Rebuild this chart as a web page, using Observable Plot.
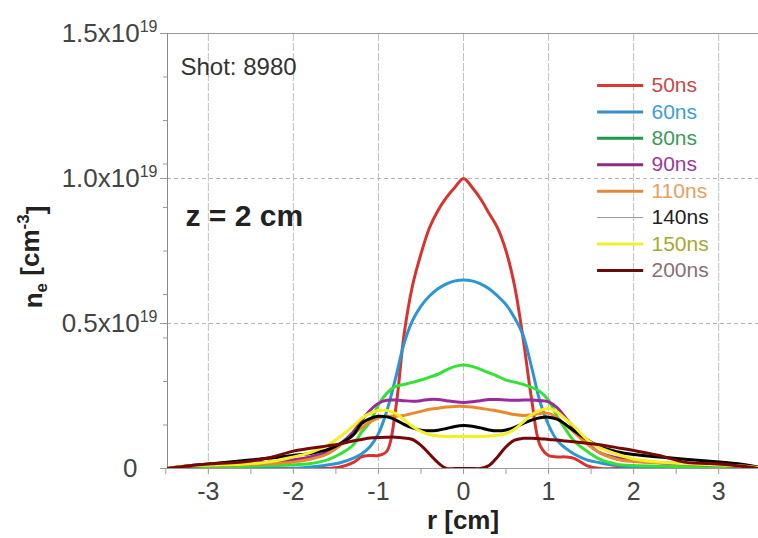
<!DOCTYPE html>
<html>
<head>
<meta charset="utf-8">
<script src="https://cdn.jsdelivr.net/npm/d3@7"></script>
<script src="https://cdn.jsdelivr.net/npm/@observablehq/plot@0.6"></script>
<style>
  body { margin: 0; background: #fff; }
  #chart svg { display: block; }
</style>
</head>
<body>
<div id="chart"></div>
<script>
// radial positions (cm)
const r = [-3.48,-3.2,-2.9,-2.6,-2.3,-2.0,-1.8,-1.6,-1.45,-1.3,-1.2,-1.1,-1.0,-0.9,-0.8,-0.7,-0.6,-0.5,-0.4,-0.3,-0.2,-0.1,0,
           0.1,0.2,0.3,0.4,0.5,0.6,0.7,0.8,0.9,1.0,1.1,1.2,1.3,1.45,1.6,1.8,2.0,2.3,2.6,2.9,3.2,3.47];

// electron density, units of 1e19 cm^-3
const ne50  = [0,0,0,0,0,0,0,0,0.005,0.02,0.04,0.045,0.045,0.06,0.2,0.46,0.63,0.74,0.83,0.89,0.935,0.97,1.0,
               0.97,0.93,0.88,0.83,0.75,0.63,0.45,0.24,0.08,0.045,0.04,0.04,0.035,0.01,0,0,0,0,0,0,0,0];
const ne60  = [0,0,0,0,0,0,0.005,0.012,0.02,0.035,0.05,0.075,0.12,0.2,0.31,0.43,0.51,0.56,0.595,0.62,0.637,0.647,0.65,
               0.647,0.637,0.62,0.595,0.565,0.52,0.46,0.35,0.23,0.15,0.097,0.07,0.05,0.03,0.02,0.01,0.005,0,0,0,0,0];
const ne80  = [0,0.003,0.005,0.007,0.01,0.012,0.017,0.03,0.05,0.08,0.125,0.16,0.22,0.26,0.283,0.29,0.297,0.305,0.315,0.325,0.34,0.352,0.357,
               0.352,0.342,0.33,0.318,0.305,0.298,0.29,0.28,0.265,0.235,0.18,0.135,0.095,0.06,0.032,0.015,0.01,0.008,0.006,0.004,0.002,0];
const ne90  = [0,0.008,0.012,0.015,0.022,0.03,0.04,0.057,0.085,0.125,0.165,0.2,0.225,0.235,0.236,0.234,0.232,0.234,0.238,0.238,0.234,0.23,0.228,
               0.23,0.234,0.238,0.238,0.236,0.235,0.236,0.236,0.234,0.23,0.21,0.175,0.14,0.09,0.055,0.037,0.027,0.02,0.016,0.012,0.008,0];
const ne110 = [0,0.01,0.012,0.013,0.016,0.022,0.032,0.05,0.08,0.115,0.14,0.16,0.175,0.18,0.18,0.183,0.19,0.197,0.204,0.208,0.212,0.214,0.214,
               0.212,0.208,0.203,0.198,0.192,0.186,0.183,0.185,0.19,0.19,0.175,0.15,0.125,0.085,0.055,0.032,0.024,0.02,0.017,0.014,0.01,0.003];
const ne140 = [0,0.01,0.018,0.027,0.035,0.045,0.052,0.065,0.085,0.115,0.155,0.172,0.18,0.178,0.168,0.152,0.14,0.132,0.13,0.132,0.138,0.145,0.148,
               0.146,0.14,0.133,0.13,0.133,0.142,0.155,0.167,0.175,0.177,0.17,0.152,0.13,0.1,0.075,0.058,0.048,0.04,0.032,0.025,0.017,0.005];
const ne150 = [0,0.01,0.012,0.015,0.022,0.04,0.055,0.08,0.11,0.145,0.172,0.19,0.2,0.2,0.19,0.168,0.145,0.128,0.117,0.112,0.11,0.11,0.11,
               0.11,0.11,0.112,0.115,0.12,0.135,0.16,0.185,0.2,0.207,0.195,0.17,0.145,0.1,0.072,0.05,0.033,0.022,0.017,0.013,0.01,0.003];
const ne200 = [0,0.01,0.017,0.022,0.036,0.06,0.07,0.078,0.085,0.095,0.1,0.105,0.107,0.108,0.108,0.105,0.1,0.08,0.05,0.02,0,0,0,
               0,0,0.01,0.04,0.075,0.098,0.104,0.104,0.103,0.1,0.098,0.095,0.092,0.087,0.082,0.072,0.062,0.045,0.022,0.017,0.01,0];

const names       = ["50ns","60ns","80ns","90ns","110ns","140ns","150ns","200ns"];
const curveColors = ["#d8332e","#2a96d4","#33e233","#9a2a9e","#e8892e","#000000","#f4f020","#780808"];
const legendLine  = ["#d43a36","#3a8ec8","#1e9a48","#8a2a8a","#e08a40","#999999","#f0f030","#6a0a0a"];
const legendText  = ["#c84848","#3aa0d0","#3a9a5a","#9a3a9a","#e8a060","#222222","#a8a830","#8a7070"];
const legendWidth = [3,3,3,3,3,1,3,3];
const values      = [ne50, ne60, ne80, ne90, ne110, ne140, ne150, ne200];

const xTicks     = [-3.5,-3,-2.5,-2,-1.5,-1,-0.5,0,0.5,1,1.5,2,2.5,3];
const xGrid      = [-3,-2,-1,0,1,2,3];
const yTicks     = [0,0.5,1.0,1.5];
const yMinor     = [0.15,0.3,0.45,0.6,0.75,0.9,1.05,1.2,1.35];
const yGrid      = [0.5,1.0];

const font = "Liberation Sans, Arial, Helvetica, sans-serif";

const curveMarks = values.map((vals, k) =>
  Plot.line(vals.map((v, i) => ({r: r[i], v})), {
    x: "r", y: "v", stroke: curveColors[k], strokeWidth: 3, curve: "catmull-rom", clip: true
  })
);

const legendRows = names.map((n, i) => ({name: n, i, y: 1.3207 - i * 0.0911}));
const legendMarks = legendRows.flatMap(d => [
  Plot.ruleY([d], {y: "y", x1: 1.576, x2: 2.118, stroke: legendLine[d.i], strokeWidth: legendWidth[d.i]}),
  Plot.text([d], {y: "y", x: 2.21, text: "name", textAnchor: "start", fill: legendText[d.i], fontSize: 21})
]);

const svg = Plot.plot({
  width: 758,
  height: 538,
  marginLeft: 167,
  marginRight: 0,
  marginTop: 33,
  marginBottom: 70,
  style: {fontFamily: font, background: "#fff", overflow: "visible"},
  x: {domain: [-3.48, 3.468]},
  y: {domain: [0, 1.5]},
  marks: [
    Plot.gridX(xGrid, {stroke: "#c0c0c0", strokeOpacity: 1, strokeDasharray: "8,2"}),
    Plot.gridY(yGrid, {stroke: "#b8b8b8", strokeOpacity: 1, strokeDasharray: "4,3"}),
    Plot.ruleY([0], {stroke: "#9a9a9a"}),
    Plot.ruleY([1.5], {stroke: "#9a9a9a"}),
    Plot.ruleX([-3.48], {stroke: "#8a8a8a"}),
    Plot.axisX({ticks: xTicks, tickSize: 6, tickPadding: 8, stroke: "#9a9a9a", fill: "#444",
      fontSize: 25, label: null, tickFormat: d => Number.isInteger(d) ? String(d) : ""}),
    Plot.axisY({ticks: yMinor, tickSize: 4, stroke: "#9a9a9a", label: null, tickFormat: () => ""}),
    Plot.axisY({ticks: yTicks, tickSize: 7, tickPadding: 3, stroke: "#9a9a9a", fill: "#444",
      fontSize: 26, label: null, tickFormat: d => d === 0 ? "0" : d.toFixed(1) + "x10"}),
    ...curveMarks,
    ...legendMarks,
    Plot.text(["Shot: 8980"], {frameAnchor: "top-left", dx: 13, dy: 24, textAnchor: "start",
      fontSize: 24, fill: "#333"}),
    Plot.text(["z = 2 cm"], {frameAnchor: "top-left", dx: 18, dy: 171, textAnchor: "start",
      fontSize: 30, fontWeight: "bold", fill: "#222"}),
    Plot.text(["r [cm]"], {frameAnchor: "bottom", dy: 60, fontSize: 26, fontWeight: "bold", fill: "#222"}),
    Plot.text(["n_e [cm^-3]"], {frameAnchor: "left", dx: -134, dy: 6, rotate: -90, textAnchor: "middle",
      fontSize: 26, fontWeight: "bold", fill: "#222"})
  ]
});

// superscripts on y tick labels
d3.select(svg).selectAll('[aria-label="y-axis tick label"] text').each(function () {
  const t = d3.select(this);
  const s = t.text();
  if (s === "0") {
    t.attr("dx", "-20");
  } else if (s !== "") {
    t.append("tspan").attr("dy", "-0.6em").attr("font-size", "16px").text("19");
  }
});
// rich y title
d3.select(svg).selectAll("text").each(function () {
  if (this.textContent === "n_e [cm^-3]") {
    const t = d3.select(this);
    t.text("");
    t.append("tspan").text("n");
    t.append("tspan").attr("dy", "0.3em").attr("font-size", "17px").text("e");
    t.append("tspan").attr("dy", "-0.3em").text(" [cm");
    t.append("tspan").attr("dy", "-0.6em").attr("font-size", "17px").text("-3");
    t.append("tspan").attr("dy", "0.6em").text("]");
  }
});

document.getElementById("chart").appendChild(svg);
</script>
</body>
</html>
